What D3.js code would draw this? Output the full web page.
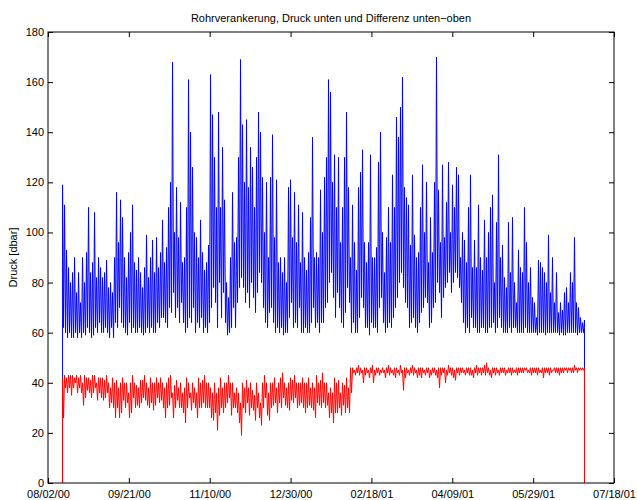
<!DOCTYPE html>
<html>
<head>
<meta charset="utf-8">
<script src="https://cdn.jsdelivr.net/npm/d3@7"></script>
<style>
  body { margin: 0; background: #fff; }
  svg text { font-family: "Liberation Sans", Arial, sans-serif; }
</style>
</head>
<body>
<div id="chart"></div>
<script>
// start / end of the record (the logger reads 0 before and after)
const startDate = new Date(2000, 7, 11);
const endDate = new Date(2001, 5, 29, 18);

// the record is very dense, so it is kept as max / min per short time bin,
// read off the picture
const druckMax = [
  119, 111, 93, 86, 80, 84, 90, 76, 84, 72,
  90, 80, 92, 110, 84, 88, 108, 82, 90, 86,
  82, 84, 89, 78, 80, 76, 90, 116, 96, 113,
  106, 90, 82, 92, 100, 111, 88, 85, 90, 84,
  78, 86, 99, 82, 90, 97, 84, 98, 86, 92,
  105, 88, 94, 110, 120, 168, 100, 118, 98, 112,
  88, 90, 110, 161, 140, 126, 100, 98, 90, 105,
  92, 85, 88, 95, 163, 147, 130, 110, 148, 110,
  134, 113, 80, 74, 90, 116, 96, 98, 130, 169,
  143, 120, 145, 118, 134, 126, 110, 130, 148, 140,
  122, 100, 120, 90, 122, 139, 98, 121, 88, 90,
  84, 90, 80, 118, 121, 98, 116, 96, 111, 88,
  108, 90, 85, 92, 106, 138, 90, 92, 90, 117,
  100, 122, 130, 161, 156, 120, 131, 110, 130, 96,
  110, 130, 148, 118, 90, 111, 96, 85, 118, 124,
  133, 96, 88, 96, 131, 90, 90, 94, 128, 140,
  100, 84, 98, 110, 96, 123, 110, 146, 138, 150,
  162, 118, 114, 111, 95, 123, 99, 90, 92, 110,
  127, 100, 120, 88, 106, 92, 120, 170, 117, 96,
  127, 98, 112, 128, 100, 119, 110, 126, 123, 90,
  100, 97, 88, 110, 123, 86, 97, 86, 111, 90,
  85, 105, 90, 100, 110, 115, 80, 104, 131, 90,
  95, 82, 78, 104, 84, 106, 80, 72, 93, 86,
  84, 110, 96, 80, 86, 74, 72, 66, 89, 88,
  86, 84, 80, 99, 76, 90, 72, 84, 68, 72,
  69, 76, 78, 72, 84, 80, 98, 72, 70, 66,
  64, 65
];

const druckMin = [
  62, 60, 58, 60, 58, 58, 60, 58, 60, 58,
  60, 59, 62, 60, 58, 59, 62, 60, 64, 60,
  60, 62, 60, 58, 62, 58, 64, 62, 70, 64,
  62, 60, 59, 64, 60, 62, 60, 60, 62, 60,
  59, 60, 62, 60, 62, 60, 60, 64, 62, 66,
  66, 64, 62, 70, 68, 76, 66, 70, 64, 72,
  64, 60, 62, 66, 64, 70, 60, 64, 62, 66,
  60, 62, 60, 64, 70, 78, 72, 62, 80, 66,
  76, 64, 59, 60, 62, 70, 62, 72, 78, 82,
  78, 72, 76, 70, 80, 74, 68, 76, 84, 80,
  70, 64, 62, 68, 70, 64, 60, 62, 60, 62,
  59, 60, 60, 66, 72, 62, 64, 62, 70, 60,
  60, 62, 60, 60, 64, 70, 62, 64, 60, 64,
  64, 70, 72, 80, 84, 74, 66, 76, 70, 64,
  62, 68, 78, 72, 60, 64, 60, 60, 66, 74,
  70, 62, 62, 59, 64, 62, 62, 60, 70, 74,
  64, 60, 62, 64, 62, 66, 70, 74, 80, 84,
  78, 72, 70, 62, 64, 66, 62, 60, 64, 68,
  70, 74, 72, 62, 64, 70, 72, 80, 76, 66,
  74, 78, 80, 84, 76, 80, 84, 82, 78, 72,
  64, 60, 62, 60, 66, 62, 62, 60, 60, 62,
  62, 60, 60, 62, 62, 64, 60, 62, 66, 62,
  60, 60, 60, 62, 60, 62, 62, 60, 60, 60,
  60, 62, 60, 60, 60, 60, 60, 59, 60, 60,
  60, 59, 60, 60, 60, 60, 60, 60, 59, 60,
  59, 59, 60, 60, 60, 60, 60, 59, 60, 60,
  60, 62
];

// Differenz unten-oben, max / min per bin
const diffMax = [
  42, 43, 42, 43, 43, 43, 42, 43, 42, 43,
  40, 43, 42, 42, 41, 43, 43, 40, 42, 42,
  42, 41, 43, 40, 38, 42, 40, 41, 38, 40,
  42, 40, 40, 36, 40, 43, 40, 39, 38, 41,
  41, 43, 40, 38, 42, 40, 40, 42, 40, 42,
  40, 38, 40, 42, 43, 36, 39, 41, 38, 40,
  36, 38, 42, 40, 36, 40, 38, 36, 42, 40,
  41, 43, 40, 40, 38, 36, 40, 36, 38, 42,
  38, 40, 40, 43, 40, 40, 36, 38, 36, 32,
  40, 38, 41, 38, 40, 37, 35, 40, 36, 32,
  40, 43, 40, 36, 40, 40, 42, 38, 40, 42,
  44, 40, 38, 40, 42, 41, 43, 40, 40, 40,
  42, 40, 40, 42, 38, 40, 38, 43, 40, 41,
  44, 40, 40, 36, 38, 36, 42, 40, 41, 36,
  40, 39, 42, 38, 46, 46, 45, 46, 47, 46,
  45, 46, 46, 45, 46, 47, 45, 46, 46, 45,
  46, 45, 46, 47, 46, 45, 46, 46, 45, 47,
  45, 46, 46, 45, 46, 47, 46, 45, 46, 46,
  46, 45, 46, 46, 45, 46, 46, 45, 46, 46,
  46, 46, 45, 47, 46, 46, 45, 46, 46, 46,
  46, 45, 46, 46, 46, 45, 46, 47, 46, 46,
  46, 47, 48, 46, 45, 46, 46, 46, 45, 46,
  46, 46, 45, 46, 46, 46, 45, 46, 46, 46,
  46, 46, 46, 45, 46, 46, 46, 46, 46, 45,
  46, 46, 46, 46, 46, 45, 46, 46, 46, 46,
  46, 46, 46, 46, 46, 46, 47, 46, 46, 46,
  46, 46
];

const diffMin = [
  26, 38, 36, 38, 35, 38, 40, 36, 38, 36,
  31, 34, 37, 36, 34, 36, 38, 33, 36, 34,
  33, 34, 36, 30, 32, 30, 26, 30, 26, 28,
  33, 30, 32, 26, 28, 34, 30, 31, 30, 32,
  34, 33, 31, 30, 32, 29, 31, 34, 32, 33,
  30, 26, 30, 31, 34, 26, 30, 33, 30, 30,
  28, 24, 30, 34, 29, 32, 30, 26, 30, 30,
  32, 30, 30, 30, 26, 25, 28, 21, 27, 30,
  28, 30, 32, 34, 27, 30, 30, 28, 24, 19,
  30, 28, 32, 27, 30, 29, 25, 30, 26, 23,
  30, 34, 27, 25, 30, 31, 32, 28, 32, 30,
  34, 31, 30, 29, 33, 32, 34, 30, 31, 32,
  30, 28, 30, 31, 30, 29, 26, 32, 31, 30,
  32, 30, 31, 26, 28, 24, 28, 28, 30, 27,
  31, 28, 30, 28, 36, 44, 43, 44, 43, 44,
  40, 43, 44, 42, 44, 40, 43, 44, 43, 44,
  44, 42, 44, 43, 44, 43, 42, 44, 43, 44,
  37, 42, 44, 43, 44, 43, 44, 42, 43, 42,
  44, 43, 44, 42, 43, 44, 43, 42, 38, 43,
  44, 40, 43, 44, 43, 42, 41, 44, 43, 44,
  44, 43, 44, 43, 43, 42, 44, 43, 44, 43,
  44, 43, 44, 43, 42, 44, 43, 44, 43, 44,
  44, 43, 44, 44, 43, 44, 44, 43, 44, 44,
  44, 45, 44, 44, 43, 44, 44, 43, 44, 44,
  42, 44, 44, 43, 44, 45, 44, 44, 43, 44,
  44, 45, 44, 45, 44, 44, 45, 44, 45, 45,
  45, 45
];

const xTickDates = [
  new Date(2000, 7, 2), new Date(2000, 8, 21), new Date(2000, 10, 10),
  new Date(2000, 11, 30), new Date(2001, 1, 18), new Date(2001, 3, 9),
  new Date(2001, 4, 29), new Date(2001, 6, 18)
];
const yTicks = [0, 20, 40, 60, 80, 100, 120, 140, 160, 180];

const width = 637;
const height = 500;
const margin = { top: 32, right: 23, bottom: 17, left: 48 };

const svg = d3
  .select("#chart")
  .append("svg")
  .attr("width", width)
  .attr("height", height);

const xScale = d3
  .scaleTime()
  .domain([xTickDates[0], xTickDates[xTickDates.length - 1]])
  .range([margin.left, width - margin.right]);

const yScale = d3
  .scaleLinear()
  .domain([0, 180])
  .range([height - margin.bottom, margin.top]);

// bin index -> time (ms)
const nBins = druckMax.length;
const binTime = d3.scaleLinear().domain([0, nBins - 1]).range([+startDate, +endDate]);
const halfBin = (endDate - startDate) / (nBins - 1) / 2;

// zigzag max -> min inside each bin, with the zero readings at both ends
const toPoints = (maxVals, minVals) => {
  const pts = [{ t: startDate, v: 0 }];
  maxVals.forEach((hi, i) => {
    const t = +binTime(i);
    pts.push({ t: new Date(t), v: hi });
    pts.push({ t: new Date(Math.min(t + halfBin, +endDate)), v: minVals[i] });
  });
  pts.push({ t: endDate, v: 0 });
  return pts;
};

const line = d3
  .line()
  .x((d) => xScale(d.t))
  .y((d) => yScale(d.v));

svg
  .append("path")
  .datum(toPoints(druckMax, druckMin))
  .attr("d", line)
  .attr("fill", "none")
  .attr("stroke", "#0000ff")
  .attr("stroke-width", 1);

svg
  .append("path")
  .datum(toPoints(diffMax, diffMin))
  .attr("d", line)
  .attr("fill", "none")
  .attr("stroke", "#ff0000")
  .attr("stroke-width", 1);

const fmt = d3.timeFormat("%m/%d/%y");
const x0 = margin.left;
const x1 = width - margin.right;
const y0 = height - margin.bottom;
const y1 = margin.top;

// axes with inward ticks, matlab style
svg
  .append("g")
  .attr("transform", `translate(0, ${y0})`)
  .call(d3.axisBottom(xScale).tickValues(xTickDates).tickFormat(fmt).tickSizeInner(-5).tickSizeOuter(0).tickPadding(7))
  .call((g) => g.select(".domain").remove());

svg
  .append("g")
  .attr("transform", `translate(0, ${y1})`)
  .call(d3.axisTop(xScale).tickValues(xTickDates).tickFormat("").tickSizeInner(-5).tickSizeOuter(0))
  .call((g) => g.select(".domain").remove());

svg
  .append("g")
  .attr("transform", `translate(${x0}, 0)`)
  .call(d3.axisLeft(yScale).tickValues(yTicks).tickSizeInner(-5).tickSizeOuter(0).tickPadding(4))
  .call((g) => g.select(".domain").remove());

svg
  .append("g")
  .attr("transform", `translate(${x1}, 0)`)
  .call(d3.axisRight(yScale).tickValues(yTicks).tickFormat("").tickSizeInner(-5).tickSizeOuter(0))
  .call((g) => g.select(".domain").remove());

svg.selectAll(".tick line").attr("stroke", "#000");
svg
  .selectAll(".tick text")
  .attr("fill", "#000")
  .style("font-size", "11px");

svg
  .append("rect")
  .attr("x", x0)
  .attr("y", y1)
  .attr("width", x1 - x0)
  .attr("height", y0 - y1)
  .attr("fill", "none")
  .attr("stroke", "#000")
  .attr("stroke-width", 1);

svg
  .append("text")
  .attr("x", (x0 + x1) / 2)
  .attr("y", 22)
  .attr("text-anchor", "middle")
  .style("font-size", "11px")
  .text("Rohrverankerung, Druck unten und Differenz unten\u2212oben");

svg
  .append("text")
  .attr("transform", `translate(17, ${(y0 + y1) / 2}) rotate(-90)`)
  .attr("text-anchor", "middle")
  .style("font-size", "11px")
  .text("Druck [dbar]");
</script>
</body>
</html>
